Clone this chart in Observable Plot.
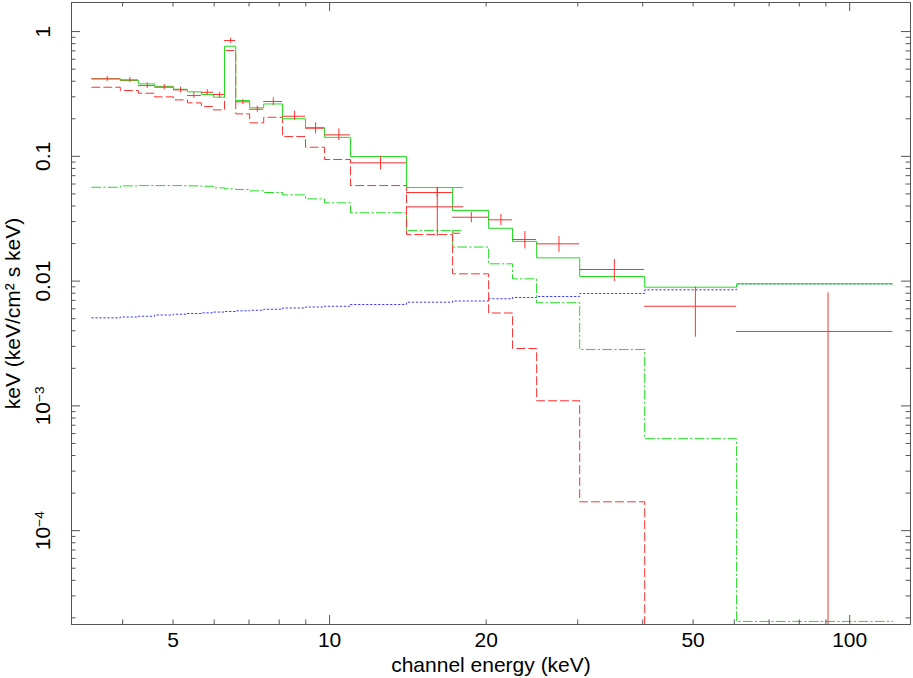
<!DOCTYPE html>
<html><head><meta charset="utf-8">
<script src="https://cdn.jsdelivr.net/npm/d3@7"></script>
<script src="https://cdn.jsdelivr.net/npm/@observablehq/plot@0.6"></script>
<style>body{margin:0;background:#fff}</style>
</head><body><div id="chart"></div>
<script>
// ---- data (keV, keV^2 / cm^2 s keV) ----
const binEdges = [3.49, 3.96, 4.29, 4.61, 5.01, 5.33, 5.67, 5.98, 6.28, 6.60, 7.02, 7.47, 8.12, 8.99, 9.78, 10.97, 14.06, 17.24, 20.22, 22.48, 25.01, 30.26, 40.35, 60.62, 121.0];
const totalModel = [0.418, 0.405, 0.381, 0.364, 0.345, 0.329, 0.313, 0.298, 0.763, 0.280, 0.245, 0.263, 0.200, 0.170, 0.142, 0.0996, 0.0562, 0.0368, 0.0265, 0.0208, 0.01537, 0.01089, 0.00894, 0.00951];
const redDashed = [0.358, 0.3367, 0.3203, 0.2998, 0.2836, 0.2684, 0.2506, 0.2358, 0.7041, 0.2190, 0.1855, 0.2057, 0.1441, 0.1183, 0.0943, 0.0583, 0.02361, 0.01144, 0.005553, 0.002884, 0.001099, 0.0001704];
const greenDashDot = [0.0565, 0.0580, 0.0583, 0.0583, 0.0583, 0.0580, 0.0576, 0.0559, 0.0549, 0.0542, 0.0529, 0.0513, 0.0491, 0.0456, 0.0424, 0.0353, 0.0254, 0.01875, 0.01376, 0.01043, 0.00671, 0.00283, 0.000546, 1.873e-5];
const blueDotted = [0.00508, 0.00516, 0.00523, 0.00535, 0.00543, 0.00550, 0.00557, 0.00565, 0.00571, 0.00578, 0.00584, 0.00595, 0.00609, 0.00620, 0.00629, 0.00649, 0.00678, 0.00693, 0.00722, 0.00739, 0.00753, 0.00796, 0.00852, 0.00951];

// second-group bin piece (14.06–18.10 keV)
const extraBin = [17.24, 18.10];
const extraTotal = 0.0562, extraRed = 0.0242, extraDashDot = 0.0254;

// data points with error bars
const dataE   = [3.737, 4.130, 4.461, 4.810, 5.171, 5.483, 5.818, 6.145, 6.453, 6.813, 7.261, 7.795, 8.565, 9.399, 10.42, 12.53, 16.11, 16.11, 18.73, 21.35, 23.74, 27.61, 35.28, 50.50, 90.85];
const dataElo = [3.49, 3.96, 4.29, 4.61, 5.01, 5.33, 5.67, 5.98, 6.28, 6.60, 7.02, 7.47, 8.12, 8.99, 9.78, 10.97, 14.06, 14.06, 17.24, 20.22, 22.48, 25.01, 30.26, 40.35, 60.62];
const dataEhi = [3.96, 4.29, 4.61, 5.01, 5.33, 5.67, 5.98, 6.28, 6.60, 7.02, 7.47, 8.12, 8.99, 9.78, 10.97, 14.06, 17.24, 18.10, 20.22, 22.48, 25.01, 30.26, 40.35, 60.62, 121.0];
const dataFlux = [0.418, 0.410, 0.369, 0.358, 0.341, 0.307, 0.326, 0.313, 0.847, 0.2734, 0.2384, 0.275, 0.2096, 0.168, 0.1487, 0.0887, 0.0513, 0.0394, 0.0325, 0.0310, 0.02154, 0.0199, 0.01239, 0.00629, 0.00395];
const dataHi  = [0.436, 0.428, 0.388, 0.376, 0.358, 0.326, 0.343, 0.326, 0.884, 0.285, 0.252, 0.294, 0.2298, 0.1855, 0.1662, 0.1002, 0.0565, 0.0552, 0.0356, 0.0342, 0.02496, 0.0228, 0.0149, 0.00894, 0.00806];
const dataLo  = [0.3975, 0.390, 0.351, 0.340, 0.323, 0.292, 0.307, 0.294, 0.806, 0.260, 0.2256, 0.255, 0.1936, 0.1515, 0.1338, 0.0779, 0.0470, 0.02277, 0.0293, 0.0279, 0.01815, 0.01704, 0.00993, 0.00355, 1e-6];

// axes
const xDomain = [3.19, 130.9];
const yDomain = [1.77e-5, 1.71];
const xTickValues = [5, 10, 20, 50, 100];
const xTickLabels = ["5", "10", "20", "50", "100"];
const xMajor = [10, 100];
const xMinor = [4, 5, 6, 7, 8, 9, 20, 30, 40, 50, 60, 70, 80, 90];
const yTickValues = [1, 0.1, 0.01, 0.001, 0.0001];
const yTickLabels = ["1", "0.1", "0.01", "10^-3", "10^-4"];
const yMajor = [1, 0.1, 0.01, 0.001, 0.0001];
const yDecades = [1e-5, 1e-4, 1e-3, 1e-2, 1e-1];
const yMinor = [];
for (const d of yDecades) for (const k of [2,3,4,5,6,7,8,9]) { const v = k*d; if (v > yDomain[0] && v < yDomain[1]) yMinor.push(v); }

const xLabel = "channel energy (keV)";
const yLabel = "keV (keV/cm\u00b2 s keV)";

// ---- layout / style ----
const W = 913, H = 678, mL = 71, mR = 3, mT = 2, mB = 54;
const plotW = W - mL - mR, plotH = H - mT - mB;
const RED = "#ff3030", GREEN = "#22dd22", BLUE = "#3a3aff", AXIS = "#555";
const MAJ = 9, MIN = 4.5;

function stepPoints(edges, values, tail) {
  const pts = values.map((v, i) => ({x: edges[i], y: v}));
  pts.push({x: edges[values.length], y: values[values.length - 1]});
  if (tail !== undefined) pts.push({x: edges[values.length], y: tail});
  return pts;
}
const crosses = dataE.map((e, i) => ({e, lo: dataElo[i], hi: dataEhi[i], f: dataFlux[i], flo: dataLo[i], fhi: dataHi[i]}));
const extras = [
  {x1: extraBin[0], x2: extraBin[1], y: extraTotal, s: "total"},
  {x1: extraBin[0], x2: extraBin[1], y: extraRed, s: "red"},
  {x1: extraBin[0], x2: extraBin[1], y: extraDashDot, s: "dd"}
];

const chart = Plot.plot({
  width: W, height: H,
  marginLeft: mL, marginRight: mR, marginTop: mT, marginBottom: mB,
  style: {fontFamily: "'Liberation Sans', Arial, sans-serif", fontSize: "21px", color: "#000", background: "#fff"},
  x: {type: "log", domain: xDomain},
  y: {type: "log", domain: yDomain},
  marks: [
    Plot.line(stepPoints(binEdges, blueDotted), {x: "x", y: "y", curve: "step-after", stroke: BLUE, strokeWidth: 1, strokeDasharray: "1.5,2.5", clip: true}),
    Plot.line(stepPoints(binEdges, greenDashDot), {x: "x", y: "y", curve: "step-after", stroke: GREEN, strokeWidth: 1, strokeDasharray: "9,3,1.5,3", clip: true}),
    Plot.line(stepPoints(binEdges, redDashed, 1e-8), {x: "x", y: "y", curve: "step-after", stroke: RED, strokeWidth: 1, strokeDasharray: "8,4", clip: true}),
    Plot.line(stepPoints(binEdges, totalModel), {x: "x", y: "y", curve: "step-after", stroke: GREEN, strokeWidth: 1, clip: true}),
    Plot.ruleY(extras.filter(d => d.s === "total"), {y: "y", x1: "x1", x2: "x2", stroke: GREEN}),
    Plot.ruleY(extras.filter(d => d.s === "red"), {y: "y", x1: "x1", x2: "x2", stroke: RED, strokeDasharray: "8,4"}),
    Plot.ruleY(extras.filter(d => d.s === "dd"), {y: "y", x1: "x1", x2: "x2", stroke: GREEN, strokeDasharray: "9,3,1.5,3"}),
    Plot.ruleY(crosses, {y: "f", x1: "lo", x2: "hi", stroke: RED, strokeWidth: 1, clip: true}),
    Plot.ruleX(crosses, {x: "e", y1: "flo", y2: "fhi", stroke: RED, strokeWidth: 1, clip: true}),
    Plot.frame({stroke: AXIS}),
    // inward ticks on all four sides
    Plot.tickX(xMajor, {x: d => d, insetTop: plotH - MAJ, stroke: AXIS}),
    Plot.tickX(xMinor, {x: d => d, insetTop: plotH - MIN, stroke: AXIS}),
    Plot.tickX(xMajor, {x: d => d, insetBottom: plotH - MAJ, stroke: AXIS}),
    Plot.tickX(xMinor, {x: d => d, insetBottom: plotH - MIN, stroke: AXIS}),
    Plot.tickY(yMajor, {y: d => d, insetRight: plotW - MAJ, stroke: AXIS}),
    Plot.tickY(yMinor, {y: d => d, insetRight: plotW - MIN, stroke: AXIS}),
    Plot.tickY(yMajor, {y: d => d, insetLeft: plotW - MAJ, stroke: AXIS}),
    Plot.tickY(yMinor, {y: d => d, insetLeft: plotW - MIN, stroke: AXIS}),
    Plot.axisX(xTickValues, {anchor: "bottom", tickSize: 0, tickPadding: 8, fontSize: 21,
      tickFormat: d => xTickLabels[xTickValues.indexOf(d)],
      label: xLabel, labelAnchor: "center", labelOffset: 47, labelArrow: "none"}),
    Plot.axisY(yTickValues, {anchor: "left", tickSize: 0, tickPadding: 28, fontSize: 21, rotate: -90, textAnchor: "middle",
      tickFormat: d => yTickLabels[yTickValues.indexOf(d)],
      label: yLabel, labelAnchor: "center", labelOffset: 66, labelArrow: "none"})
  ]
});

// superscript exponents
d3.select(chart).selectAll("text").each(function () {
  const t = this.textContent;
  const m = t.match(/^10\^(-?\d+)$/);
  if (m) {
    this.textContent = "10";
    d3.select(this).append("tspan").attr("dy", "-0.45em").attr("font-size", "0.65em").text(m[1].replace("-", "\u2212"));
  }
});

document.getElementById("chart").appendChild(chart);
</script>
</body></html>
